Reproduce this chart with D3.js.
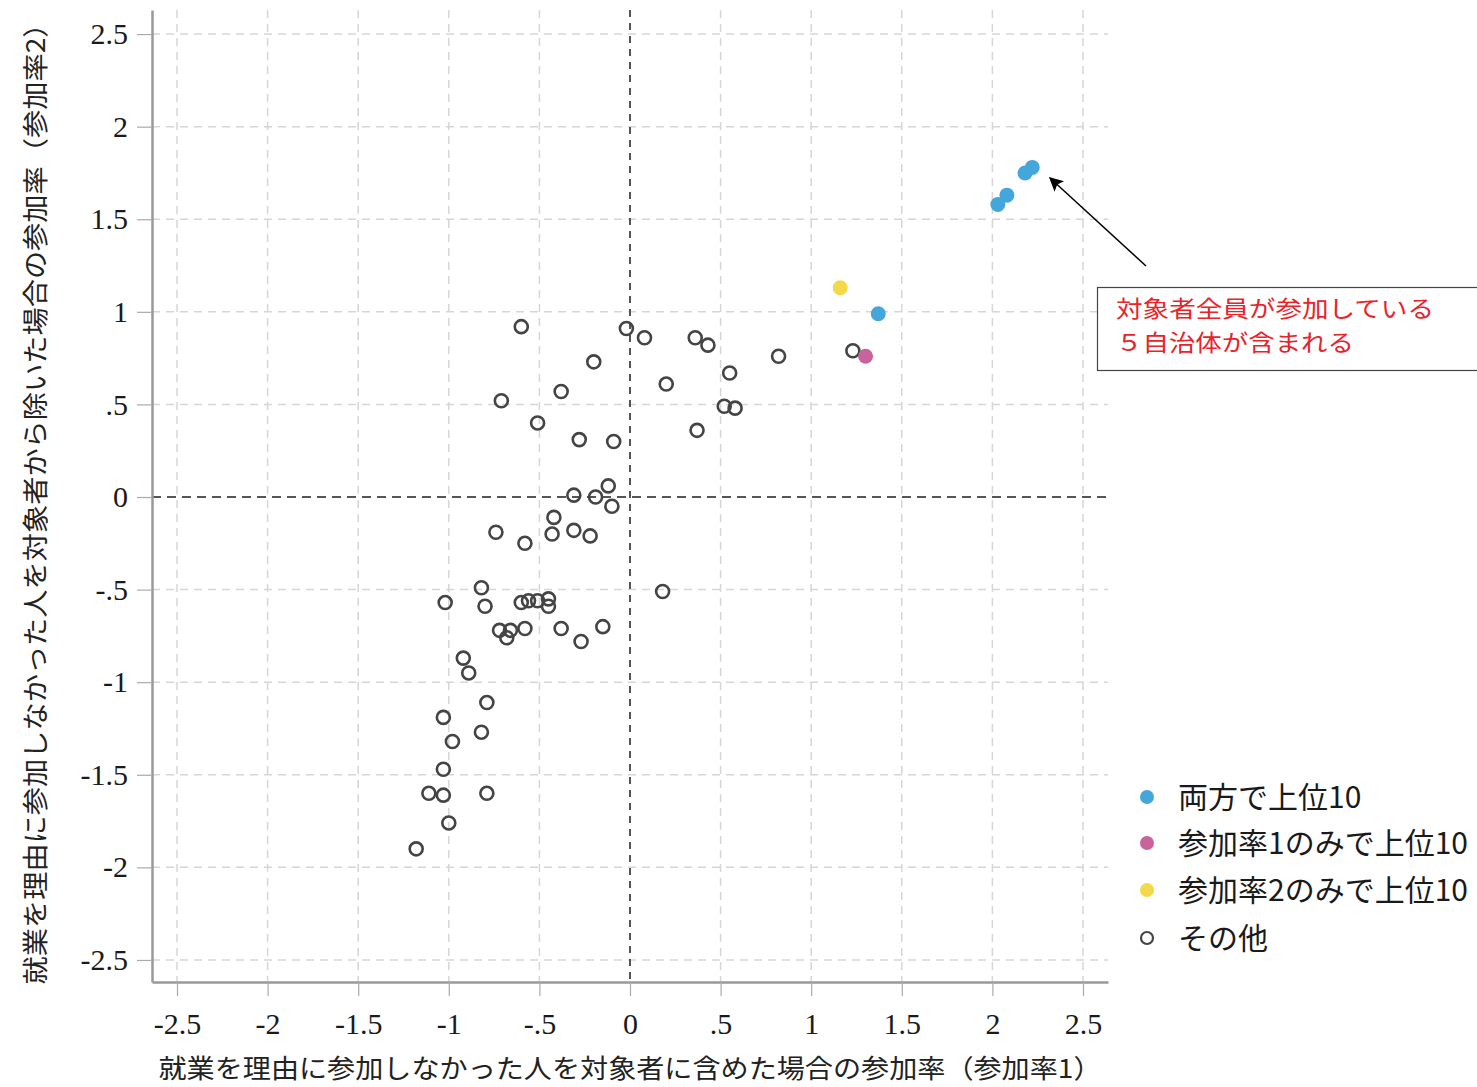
<!DOCTYPE html>
<html><head><meta charset="utf-8">
<script src="https://cdn.jsdelivr.net/npm/d3@7"></script>
<style>body{margin:0;background:#fff}svg{display:block}</style>
</head><body>
<svg id="c" width="1477" height="1087"></svg>
<script>
// ---- data ----
const tickValues = [-2.5,-2,-1.5,-1,-0.5,0,0.5,1,1.5,2,2.5];
const tickLabels = ["-2.5","-2","-1.5","-1","-.5","0",".5","1","1.5","2","2.5"];
const xTitle = "就業を理由に参加しなかった人を対象者に含めた場合の参加率（参加率1）";
const yTitle = "就業を理由に参加しなかった人を対象者から除いた場合の参加率（参加率2）";
const legendLabels = ["両方で上位10","参加率1のみで上位10","参加率2のみで上位10","その他"];
const annotationLines = ["対象者全員が参加している","５自治体が含まれる"];

const bothX = [1.37, 2.03, 2.08, 2.18, 2.22];
const bothY = [0.99, 1.58, 1.63, 1.75, 1.78];
const only1X = [1.30];
const only1Y = [0.76];
const only2X = [1.16];
const only2Y = [1.13];
const otherX = [-0.60,-0.02,0.08,-0.20,0.36,0.43,0.82,1.23,-0.38,0.20,0.55,-0.71,-0.51,0.52,0.58,-0.28,-0.09,0.37,
  -0.31,-0.12,-0.19,-0.10,-0.42,-0.74,-0.43,-0.31,-0.22,-0.58,0.18,-0.82,-1.02,-0.80,-0.60,-0.56,-0.51,-0.45,-0.45,
  -0.72,-0.66,-0.68,-0.58,-0.38,-0.27,-0.15,-0.92,-0.89,-0.79,-1.03,-0.82,-0.98,-1.03,-1.11,-1.03,-0.79,-1.00,-1.18];
const otherY = [0.92,0.91,0.86,0.73,0.86,0.82,0.76,0.79,0.57,0.61,0.67,0.52,0.40,0.49,0.48,0.31,0.30,0.36,
  0.01,0.06,0.00,-0.05,-0.11,-0.19,-0.20,-0.18,-0.21,-0.25,-0.51,-0.49,-0.57,-0.59,-0.57,-0.56,-0.56,-0.55,-0.59,
  -0.72,-0.72,-0.76,-0.71,-0.71,-0.78,-0.70,-0.87,-0.95,-1.11,-1.19,-1.27,-1.32,-1.47,-1.60,-1.61,-1.60,-1.76,-1.90];

const colBoth = "#45a6dc", col1 = "#c8649b", col2 = "#f3d84a";

// ---- layout ----
const svg = d3.select("#c");
const L = 152, R = 1108, T = 10, B = 982;
const x = d3.scaleLinear().domain([-2.638, 2.638]).range([L, R]);
const y = d3.scaleLinear().domain([-2.619, 2.630]).range([B, T]);
const serif = "'Liberation Serif','Times New Roman',serif";
const jp = "'Noto Sans CJK JP','Noto Sans',sans-serif";

// grid
const g = svg.append("g");
g.selectAll(".vg").data(tickValues.filter(d => d !== 0)).join("line")
  .attr("x1", d => x(d)).attr("x2", d => x(d)).attr("y1", T).attr("y2", B)
  .attr("stroke", "#d6d6d6").attr("stroke-width", 1.5).attr("stroke-dasharray", "8,6");
g.selectAll(".hg").data(tickValues.filter(d => d !== 0)).join("line")
  .attr("y1", d => y(d)).attr("y2", d => y(d)).attr("x1", L).attr("x2", R)
  .attr("stroke", "#d6d6d6").attr("stroke-width", 1.5).attr("stroke-dasharray", "8,6");
// zero reference lines
g.append("line").attr("x1", x(0)).attr("x2", x(0)).attr("y1", T).attr("y2", B)
  .attr("stroke", "#555").attr("stroke-width", 2).attr("stroke-dasharray", "7,6");
g.append("line").attr("y1", y(0)).attr("y2", y(0)).attr("x1", L).attr("x2", R)
  .attr("stroke", "#555").attr("stroke-width", 2).attr("stroke-dasharray", "9,6");

// axes
const fmt = d => tickLabels[tickValues.indexOf(d)];
const ax = svg.append("g").attr("transform", `translate(0,${B})`)
  .call(d3.axisBottom(x).tickValues(tickValues).tickFormat(fmt).tickSize(14).tickSizeOuter(0).tickPadding(17));
const ay = svg.append("g").attr("transform", `translate(${L},0)`)
  .call(d3.axisLeft(y).tickValues(tickValues).tickFormat(fmt).tickSize(15).tickSizeOuter(0).tickPadding(9));
[ax, ay].forEach(a => {
  a.select(".domain").attr("stroke", "#999").attr("stroke-width", 2.5);
  a.selectAll(".tick line").attr("stroke", "#aaa").attr("stroke-width", 1.2);
  a.selectAll(".tick text").attr("font-family", serif).attr("font-size", 30).attr("fill", "#1a1a1a");
});

// titles
svg.append("text").attr("x", 630).attr("y", 1078).attr("text-anchor", "middle")
  .attr("font-family", jp).attr("font-size", 26).attr("fill", "#222")
  .attr("textLength", 943).attr("lengthAdjust", "spacingAndGlyphs").text(xTitle);
svg.append("text").attr("transform", "translate(45,497) rotate(-90)").attr("text-anchor", "middle")
  .attr("font-family", jp).attr("font-size", 26).attr("fill", "#222")
  .attr("textLength", 975).attr("lengthAdjust", "spacingAndGlyphs").text(yTitle);

// points
const pts = svg.append("g");
pts.selectAll(".o").data(d3.range(otherX.length)).join("circle")
  .attr("cx", i => x(otherX[i])).attr("cy", i => y(otherY[i])).attr("r", 6.5)
  .attr("fill", "none").attr("stroke", "#444").attr("stroke-width", 2.6);
pts.selectAll(".b").data(d3.range(bothX.length)).join("circle")
  .attr("cx", i => x(bothX[i])).attr("cy", i => y(bothY[i])).attr("r", 7.5).attr("fill", colBoth);
pts.selectAll(".p").data(d3.range(only1X.length)).join("circle")
  .attr("cx", i => x(only1X[i])).attr("cy", i => y(only1Y[i])).attr("r", 7.5).attr("fill", col1);
pts.selectAll(".y").data(d3.range(only2X.length)).join("circle")
  .attr("cx", i => x(only2X[i])).attr("cy", i => y(only2Y[i])).attr("r", 7.5).attr("fill", col2);

// legend
const lg = svg.append("g");
const legY = [797, 843, 890, 938];
const legCols = [colBoth, col1, col2, null];
legendLabels.forEach((t, i) => {
  if (legCols[i]) lg.append("circle").attr("cx", 1147).attr("cy", legY[i]).attr("r", 7).attr("fill", legCols[i]);
  else lg.append("circle").attr("cx", 1147).attr("cy", legY[i]).attr("r", 6).attr("fill", "none").attr("stroke", "#444").attr("stroke-width", 2.2);
  lg.append("text").attr("x", 1178).attr("y", legY[i]).attr("dy", "0.36em")
    .attr("font-family", jp).attr("font-size", 30).attr("fill", "#1a1a1a").text(t);
});

// annotation
const defs = svg.append("defs");
defs.append("marker").attr("id", "ah").attr("viewBox", "0 0 10 10").attr("refX", 9).attr("refY", 5)
  .attr("markerWidth", 18).attr("markerHeight", 14).attr("markerUnits", "userSpaceOnUse").attr("orient", "auto")
  .append("path").attr("d", "M0,0 L10,5 L0,10 L2,5 z").attr("fill", "#000");
svg.append("line").attr("x1", 1146).attr("y1", 266).attr("x2", 1050).attr("y2", 178)
  .attr("stroke", "#000").attr("stroke-width", 1.5).attr("marker-end", "url(#ah)");
svg.append("rect").attr("x", 1097.5).attr("y", 287.5).attr("width", 400).attr("height", 83)
  .attr("fill", "#fff").attr("stroke", "#444").attr("stroke-width", 1.2);
const annLen = [318, 238];
annotationLines.forEach((t, i) => {
  svg.append("text").attr("x", 1116).attr("y", 317 + i * 34)
    .attr("font-family", jp).attr("font-size", 23).attr("fill", "#e8232a")
    .attr("textLength", annLen[i]).attr("lengthAdjust", "spacingAndGlyphs").text(t);
});
</script>
</body></html>
